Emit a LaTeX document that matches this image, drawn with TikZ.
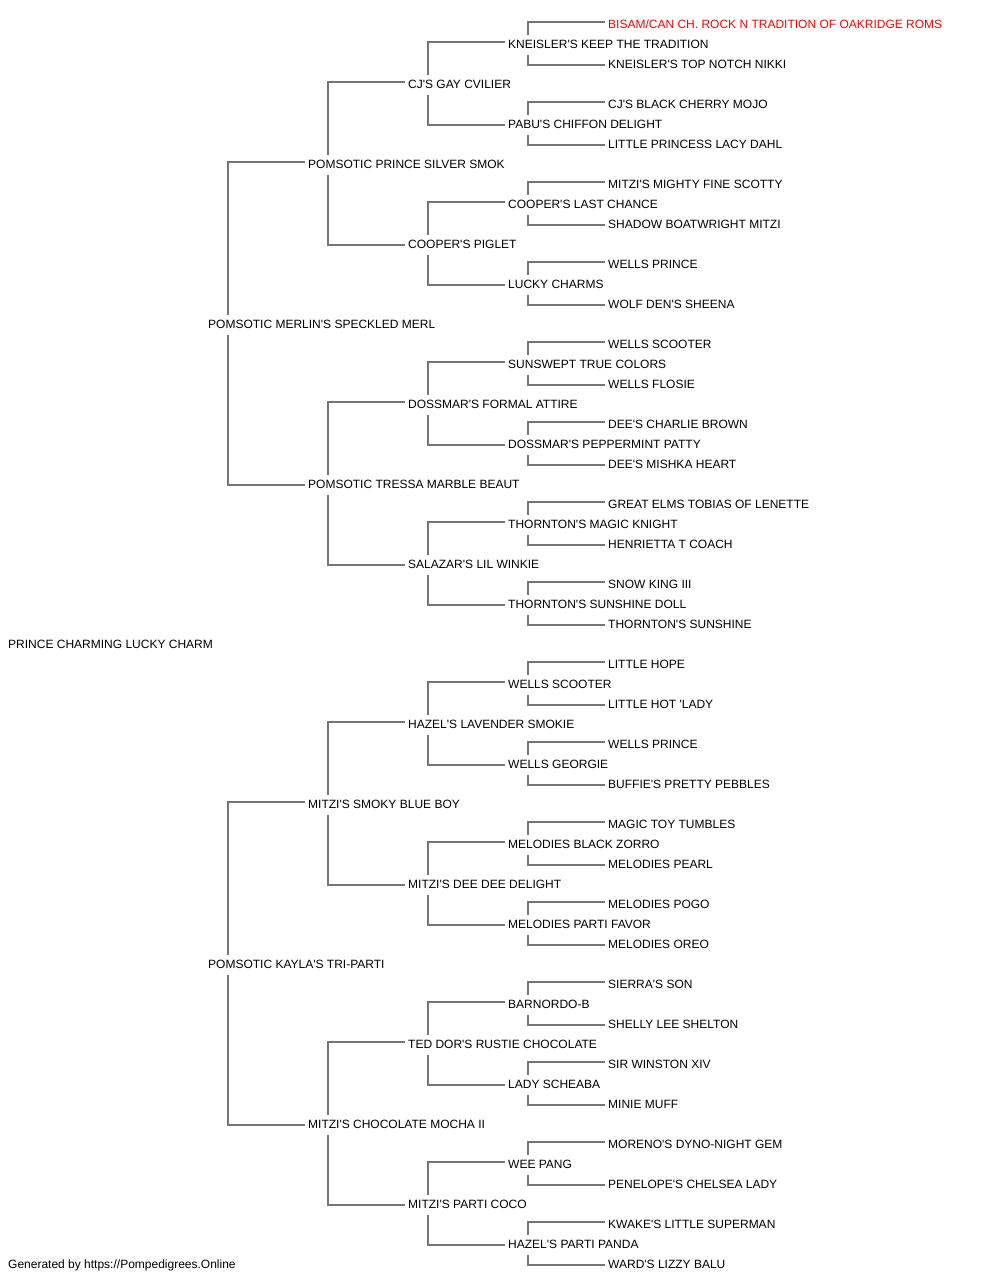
\documentclass[tikz,border=0pt]{standalone}
\usepackage{fontspec}
\setmainfont{Liberation Sans}
\newcommand\apos{\textquotesingle}
\definecolor{lc}{RGB}{118,118,118}
\definecolor{rd}{RGB}{255,0,0}
\tikzset{
  nm/.style={anchor=west, inner sep=0pt, font=\fontsize{12pt}{14pt}\selectfont, text height=8.6pt, text depth=0pt},
  conn/.style={draw=lc, line width=1.3pt}
}
\begin{document}
\begin{tikzpicture}[x=1pt,y=-1pt]
\fill[white] (0,0) rectangle (1000,1280);
\useasboundingbox (0,0) rectangle (1000,1280);
% generation 0
\node[nm] (n0-1) at (8,644) {PRINCE CHARMING LUCKY CHARM};
% generation 1
\node[nm] (n1-1) at (208,324) {POMSOTIC MERLIN\apos S SPECKLED MERL};
\node[nm] (n1-2) at (208,964) {POMSOTIC KAYLA\apos S TRI-PARTI};
% generation 2
\node[nm] (n2-1) at (308,164) {POMSOTIC PRINCE SILVER SMOK};
\node[nm] (n2-2) at (308,484) {POMSOTIC TRESSA MARBLE BEAUT};
\node[nm] (n2-3) at (308,804) {MITZI\apos S SMOKY BLUE BOY};
\node[nm] (n2-4) at (308,1124) {MITZI\apos S CHOCOLATE MOCHA II};
% generation 3
\node[nm] (n3-1) at (408,84) {CJ\apos S GAY CVILIER};
\node[nm] (n3-2) at (408,244) {COOPER\apos S PIGLET};
\node[nm] (n3-3) at (408,404) {DOSSMAR\apos S FORMAL ATTIRE};
\node[nm] (n3-4) at (408,564) {SALAZAR\apos S LIL WINKIE};
\node[nm] (n3-5) at (408,724) {HAZEL\apos S LAVENDER SMOKIE};
\node[nm] (n3-6) at (408,884) {MITZI\apos S DEE DEE DELIGHT};
\node[nm] (n3-7) at (408,1044) {TED DOR\apos S RUSTIE CHOCOLATE};
\node[nm] (n3-8) at (408,1204) {MITZI\apos S PARTI COCO};
% generation 4
\node[nm] (n4-1) at (508,44) {KNEISLER\apos S KEEP THE TRADITION};
\node[nm] (n4-2) at (508,124) {PABU\apos S CHIFFON DELIGHT};
\node[nm] (n4-3) at (508,204) {COOPER\apos S LAST CHANCE};
\node[nm] (n4-4) at (508,284) {LUCKY CHARMS};
\node[nm] (n4-5) at (508,364) {SUNSWEPT TRUE COLORS};
\node[nm] (n4-6) at (508,444) {DOSSMAR\apos S PEPPERMINT PATTY};
\node[nm] (n4-7) at (508,524) {THORNTON\apos S MAGIC KNIGHT};
\node[nm] (n4-8) at (508,604) {THORNTON\apos S SUNSHINE DOLL};
\node[nm] (n4-9) at (508,684) {WELLS SCOOTER};
\node[nm] (n4-10) at (508,764) {WELLS GEORGIE};
\node[nm] (n4-11) at (508,844) {MELODIES BLACK ZORRO};
\node[nm] (n4-12) at (508,924) {MELODIES PARTI FAVOR};
\node[nm] (n4-13) at (508,1004) {BARNORDO-B};
\node[nm] (n4-14) at (508,1084) {LADY SCHEABA};
\node[nm] (n4-15) at (508,1164) {WEE PANG};
\node[nm] (n4-16) at (508,1244) {HAZEL\apos S PARTI PANDA};
% generation 5
\node[nm,text=rd] (n5-1) at (608,24) {BISAM/CAN CH. ROCK N TRADITION OF OAKRIDGE ROMS};
\node[nm] (n5-2) at (608,64) {KNEISLER\apos S TOP NOTCH NIKKI};
\node[nm] (n5-3) at (608,104) {CJ\apos S BLACK CHERRY MOJO};
\node[nm] (n5-4) at (608,144) {LITTLE PRINCESS LACY DAHL};
\node[nm] (n5-5) at (608,184) {MITZI\apos S MIGHTY FINE SCOTTY};
\node[nm] (n5-6) at (608,224) {SHADOW BOATWRIGHT MITZI};
\node[nm] (n5-7) at (608,264) {WELLS PRINCE};
\node[nm] (n5-8) at (608,304) {WOLF DEN\apos S SHEENA};
\node[nm] (n5-9) at (608,344) {WELLS SCOOTER};
\node[nm] (n5-10) at (608,384) {WELLS FLOSIE};
\node[nm] (n5-11) at (608,424) {DEE\apos S CHARLIE BROWN};
\node[nm] (n5-12) at (608,464) {DEE\apos S MISHKA HEART};
\node[nm] (n5-13) at (608,504) {GREAT ELMS TOBIAS OF LENETTE};
\node[nm] (n5-14) at (608,544) {HENRIETTA T COACH};
\node[nm] (n5-15) at (608,584) {SNOW KING III};
\node[nm] (n5-16) at (608,624) {THORNTON\apos S SUNSHINE};
\node[nm] (n5-17) at (608,664) {LITTLE HOPE};
\node[nm] (n5-18) at (608,704) {LITTLE HOT \apos LADY};
\node[nm] (n5-19) at (608,744) {WELLS PRINCE};
\node[nm] (n5-20) at (608,784) {BUFFIE\apos S PRETTY PEBBLES};
\node[nm] (n5-21) at (608,824) {MAGIC TOY TUMBLES};
\node[nm] (n5-22) at (608,864) {MELODIES PEARL};
\node[nm] (n5-23) at (608,904) {MELODIES POGO};
\node[nm] (n5-24) at (608,944) {MELODIES OREO};
\node[nm] (n5-25) at (608,984) {SIERRA\apos S SON};
\node[nm] (n5-26) at (608,1024) {SHELLY LEE SHELTON};
\node[nm] (n5-27) at (608,1064) {SIR WINSTON XIV};
\node[nm] (n5-28) at (608,1104) {MINIE MUFF};
\node[nm] (n5-29) at (608,1144) {MORENO\apos S DYNO-NIGHT GEM};
\node[nm] (n5-30) at (608,1184) {PENELOPE\apos S CHELSEA LADY};
\node[nm] (n5-31) at (608,1224) {KWAKE\apos S LITTLE SUPERMAN};
\node[nm] (n5-32) at (608,1264) {WARD\apos S LIZZY BALU};
% footer
\node[nm] (foot) at (8,1264) {Generated by https://Pompedigrees.Online};
% connectors
\foreach \g/\n in {1/2,2/4,3/8,4/16}{
  \foreach \i in {1,...,\n}{
    \pgfmathtruncatemacro\a{\g+1}
    \pgfmathtruncatemacro\p{2*\i-1}
    \pgfmathtruncatemacro\q{2*\i}
    \draw[conn] ([xshift=-3pt,yshift=2pt]n\a-\p.west) -| ([xshift=20pt,yshift=4.7pt]n\g-\i.north west);
    \draw[conn] ([xshift=-3pt,yshift=-1pt]n\a-\q.west) -| ([xshift=20pt,yshift=-6pt]n\g-\i.south west);
  }
}
\end{tikzpicture}
\end{document}
